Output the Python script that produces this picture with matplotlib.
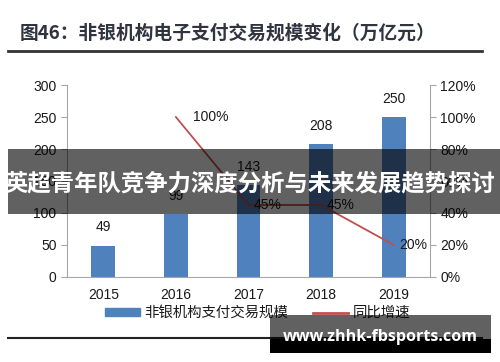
import matplotlib
matplotlib.use('Agg')
import matplotlib.pyplot as plt
from matplotlib.patches import Rectangle
from matplotlib.lines import Line2D
import numpy as np

plt.rcParams['font.family'] = ['Liberation Sans', 'Noto Sans CJK SC', 'DejaVu Sans']

years = ['2015', '2016', '2017', '2018', '2019']
volume = [49, 99, 143, 208, 250]          # 万亿元
growth = [np.nan, 1.00, 0.45, 0.45, 0.20]  # 同比增速
left_ticks = [0, 50, 100, 150, 200, 250, 300]
right_ticks = [0, 0.2, 0.4, 0.6, 0.8, 1.0, 1.2]

title = '图46：非银机构电子支付交易规模变化（万亿元）'
legend_labels = ['非银机构支付交易规模', '同比增速']
banner = '英超青年队竞争力深度分析与未来发展趋势探讨'
watermark = 'www.zhhk-fbsports.com'

bar_color = '#4F81BD'
line_color = '#C0504D'
axis_color = '#A6A6A6'
cjk = ['Noto Sans CJK SC', 'DejaVu Sans']

fig = plt.figure(figsize=(5, 3.62), dpi=100)
ax = fig.add_axes([0.134, 0.235, 0.726, 0.53])
x = np.arange(len(years))

bars = ax.bar(x, volume, width=0.33, color=bar_color, zorder=2)
for xi, v in zip(x, volume):
    ax.annotate(str(v), (xi, v), xytext=(0, 8), textcoords='offset points',
                ha='center', va='bottom', fontsize=10, color='#1a1a1a')

ax.set_xlim(-0.5, len(years) - 0.5)
ax.set_ylim(0, 300)
ax.set_yticks(left_ticks)
ax.set_xticks(x)
ax.set_xticklabels(years)
ax.tick_params(axis='y', labelsize=10, length=4, color=axis_color, labelcolor='#1a1a1a')
ax.tick_params(axis='x', labelsize=10, length=0, pad=8, labelcolor='#1a1a1a')
for s in ['top', 'right']:
    ax.spines[s].set_visible(False)
for s in ['left', 'bottom']:
    ax.spines[s].set_color(axis_color)

ax2 = ax.twinx()
ax2.plot(x, growth, color=line_color, lw=1.3, zorder=3)
for xi, g in zip(x, growth):
    if np.isnan(g):
        continue
    dx = 12 if g > 0.9 else 4
    ax2.annotate('{:.0%}'.format(g), (xi, g), xytext=(dx, 0), textcoords='offset points',
                 ha='left', va='center', fontsize=10, color='#1a1a1a')
ax2.set_ylim(0, 1.2)
ax2.set_yticks(right_ticks)
ax2.set_yticklabels(['{:.0%}'.format(t) for t in right_ticks])
ax2.tick_params(axis='y', labelsize=10, length=4, color=axis_color, labelcolor='#1a1a1a')
for s in ['top', 'left', 'bottom']:
    ax2.spines[s].set_visible(False)
ax2.spines['right'].set_color(axis_color)

# title and rules
fig.text(0.04, 0.908, title, fontsize=13.5, fontweight='bold', color='#2f3440',
         family=cjk, va='center', ha='left')
fig.add_artist(Line2D([0.016, 0.963], [0.859, 0.859], color='#333333', lw=2))
fig.add_artist(Line2D([0.016, 0.963], [0.066, 0.066], color='#222222', lw=1.5))

# legend
handles = [Rectangle((0, 0), 1, 1, color=bar_color), Line2D([], [], color=line_color, lw=2)]
leg = fig.legend(handles, legend_labels, loc='center', bbox_to_anchor=(0.515, 0.135), ncol=2,
                 frameon=False, handlelength=2.4, handleheight=0.4, handletextpad=0.35,
                 columnspacing=1.7, prop={'family': cjk, 'size': 10.4})
for t in leg.get_texts():
    t.set_color('#1a1a1a')

# overlay banner
fig.add_artist(Rectangle((0.016, 0.4088), 0.984, 0.1796, transform=fig.transFigure,
                         facecolor='black', alpha=0.62, edgecolor='none', zorder=10))
fig.text(0.5, 0.494, banner, fontsize=16.8, fontweight='bold', color='white',
         family=cjk, ha='center', va='center', zorder=11)

# watermark box
fig.add_artist(Rectangle((0.54, 0.0249), 0.442, 0.105, transform=fig.transFigure,
                         facecolor='black', alpha=0.62, edgecolor='none', zorder=10))
fig.add_artist(Rectangle((0.54, 0.0249), 0.442, 0.0387, transform=fig.transFigure,
                         facecolor='black', edgecolor='none', zorder=10))
fig.text(0.761, 0.069, watermark, fontsize=11.6, fontweight='bold', color='white',
         family=['Open Sans', 'DejaVu Sans'], ha='center', va='center', zorder=11)

fig.savefig('out.png', dpi=100)
